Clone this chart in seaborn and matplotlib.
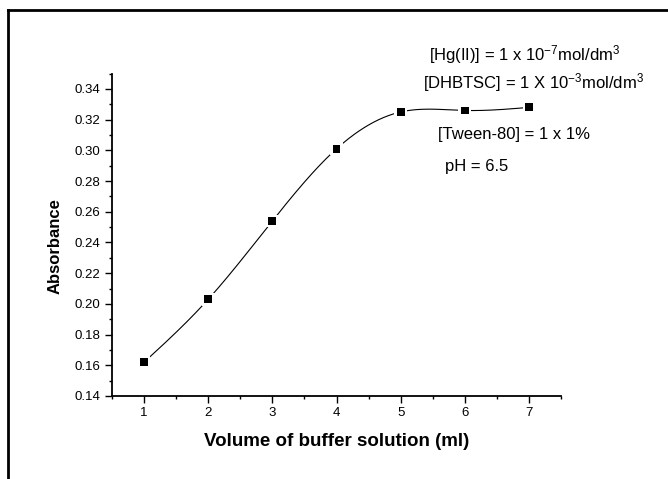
import numpy as np
import pandas as pd
import matplotlib
matplotlib.use("Agg")
import matplotlib.pyplot as plt
from matplotlib.lines import Line2D
from matplotlib.ticker import MultipleLocator, FormatStrFormatter
import seaborn as sns

# ---- data ----
volume = [1, 2, 3, 4, 5, 6, 7]
absorbance = [0.162, 0.203, 0.254, 0.301, 0.325, 0.326, 0.328]
x_label = "Volume of buffer solution (ml)"
y_label = "Absorbance"
notes = [
    "[Hg(II)] = 1 x 10$^{-7}$mol/dm$^{3}$",
    "[DHBTSC] = 1 X 10$^{-3}$mol/dm$^{3}$",
    "[Tween-80] = 1 x 1%",
    "pH = 6.5",
]

df = pd.DataFrame({"volume": volume, "absorbance": absorbance})


def natural_spline(x, y, xs):
    x = np.asarray(x, float)
    y = np.asarray(y, float)
    n = len(x)
    h = np.diff(x)
    A = np.zeros((n, n))
    b = np.zeros(n)
    A[0, 0] = 1
    A[-1, -1] = 1
    for i in range(1, n - 1):
        A[i, i - 1] = h[i - 1]
        A[i, i] = 2 * (h[i - 1] + h[i])
        A[i, i + 1] = h[i]
        b[i] = 6 * ((y[i + 1] - y[i]) / h[i] - (y[i] - y[i - 1]) / h[i - 1])
    M = np.linalg.solve(A, b)
    idx = np.clip(np.searchsorted(x, xs) - 1, 0, n - 2)
    xi, xi1 = x[idx], x[idx + 1]
    hi = xi1 - xi
    t1 = xi1 - xs
    t2 = xs - xi
    return (M[idx] * t1 ** 3 / (6 * hi) + M[idx + 1] * t2 ** 3 / (6 * hi)
            + (y[idx] / hi - M[idx] * hi / 6) * t1
            + (y[idx + 1] / hi - M[idx + 1] * hi / 6) * t2)


sns.set_theme(style="ticks")
plt.rcParams["font.family"] = ["Liberation Sans", "DejaVu Sans"]
plt.rcParams["mathtext.fontset"] = "custom"
plt.rcParams["mathtext.rm"] = "Liberation Sans"
plt.rcParams["mathtext.it"] = "Liberation Sans"
plt.rcParams["mathtext.bf"] = "Liberation Sans:bold"

W, H = 668, 479
fig = plt.figure(figsize=(W / 100, H / 100), dpi=100)
fig.patch.set_facecolor("white")

left_px, right_px, top_px, bottom_px = 112, 561, 73.6, 396
ax = fig.add_axes([left_px / W, 1 - bottom_px / H,
                   (right_px - left_px) / W, (bottom_px - top_px) / H])
ax.set_facecolor("white")

xs = np.linspace(min(volume), max(volume), 400)
curve = pd.DataFrame({"volume": xs, "absorbance": natural_spline(volume, absorbance, xs)})
sns.lineplot(data=curve, x="volume", y="absorbance", ax=ax, color="black",
             linewidth=0.8, zorder=2)
# white halo to give gaps around markers
sns.scatterplot(data=df, x="volume", y="absorbance", ax=ax, marker="s", s=85,
                color="white", edgecolor="none", zorder=3)
sns.scatterplot(data=df, x="volume", y="absorbance", ax=ax, marker="s", s=32,
                color="black", edgecolor="none", zorder=4)

ax.set_xlim(0.5, 7.5)
ax.set_ylim(0.14, 0.35)
ax.xaxis.set_major_locator(MultipleLocator(1))
ax.xaxis.set_minor_locator(MultipleLocator(0.5))
ax.yaxis.set_major_locator(MultipleLocator(0.02))
ax.yaxis.set_minor_locator(MultipleLocator(0.01))
ax.yaxis.set_major_formatter(FormatStrFormatter("%.2f"))
ax.xaxis.set_major_formatter(FormatStrFormatter("%d"))

sns.despine(ax=ax)
for s in ["left", "bottom"]:
    ax.spines[s].set_linewidth(1.3)
    ax.spines[s].set_color("black")
ax.tick_params(which="major", direction="out", length=4.8, width=1.0,
               color="black", labelsize=9.5, labelcolor="black", pad=3.4)
ax.tick_params(which="minor", direction="out", length=2.4, width=1.0, color="black")

ax.set_xlabel(x_label, fontsize=13.5, fontweight="bold", va="center", color="black")
ax.set_ylabel(y_label, fontsize=12, fontweight="bold", va="center", color="black")
ax.xaxis.set_label_coords((336.5 - left_px) / (right_px - left_px),
                          (bottom_px - 441) / (bottom_px - top_px))
ax.yaxis.set_label_coords((55.5 - left_px) / (right_px - left_px),
                          (bottom_px - 246) / (bottom_px - top_px))

note_pos = [(525, 55), (534, 83), (513.7, 134), (477, 166)]
for txt, (px, py) in zip(notes, note_pos):
    fig.text(px / W, 1 - py / H, txt, ha="center", va="center", fontsize=12,
             color="black")

# outer frame (left and top edges visible)
fig.add_artist(Line2D([8 / W, 8 / W], [0, 1 - 10 / H], transform=fig.transFigure,
                      color="black", linewidth=2.0, solid_capstyle="projecting"))
fig.add_artist(Line2D([8 / W, 1.0], [1 - 10 / H, 1 - 10 / H], transform=fig.transFigure,
                      color="black", linewidth=2.0, solid_capstyle="projecting"))

fig.savefig("out.png", dpi=100, facecolor="white")
